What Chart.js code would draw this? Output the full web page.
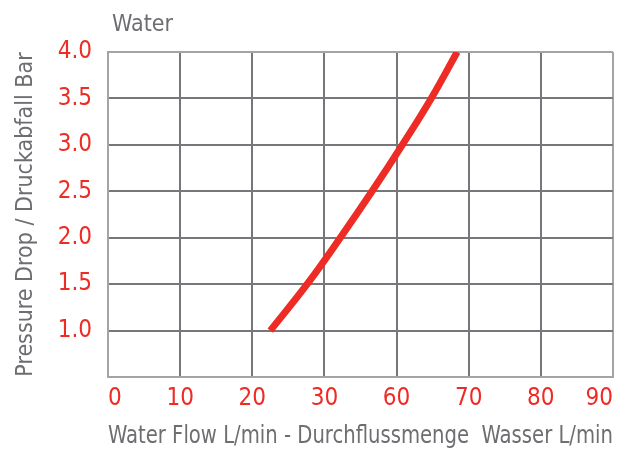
<!DOCTYPE html>
<html>
<head>
<meta charset="utf-8">
<script src="https://cdn.jsdelivr.net/npm/chart.js@4.4.1/dist/chart.umd.min.js"></script>
<style>
  body { margin: 0; background: #fff; }
</style>
</head>
<body>
<canvas id="grafico" width="638" height="450"></canvas>
<script>
var contexto = document.getElementById("grafico").getContext("2d");

// tick labels of the flow axis (not evenly spaced in value, evenly spaced on paper)
var flowTicks = [0, 10, 20, 30, 60, 70, 80, 90];
var pressureTicks = [0.5, 1.0, 1.5, 2.0, 2.5, 3.0, 3.5, 4.0];

// curve
var flow = [22.5, 27.6, 36.6, 49.8, 60.8, 64.8, 68.4];
var pressure = [1.0, 1.5, 2.0, 2.5, 3.0, 3.5, 4.0];

var red = '#ee2b25';
var gray = '#6d6e71';
var fonte = "'Liberation Sans Narrow', 'DejaVu Sans Condensed', 'Liberation Sans', sans-serif";

// flow value -> position on the (piecewise) axis
function pos(f){
    for (var i = 0; i < flowTicks.length - 1; i++) {
        if (f <= flowTicks[i + 1]) {
            return i + (f - flowTicks[i]) / (flowTicks[i + 1] - flowTicks[i]);
        }
    }
    return flowTicks.length - 1;
}

function pontos(){
    var p = [];
    for (var i = 0; i < flow.length; i++) {
        p.push({x: pos(flow[i]), y: pressure[i]});
    }
    return p;
}

var tituloWater = {
    id: 'tituloWater',
    afterDraw: function(chart){
        var c = chart.ctx;
        c.save();
        c.font = "23px " + fonte;
        c.fillStyle = gray;
        c.textBaseline = 'alphabetic';
        c.fillText('Water', chart.chartArea.left + 4, 31);
        c.restore();
    }
};

function corGrade(ctx){
    var last = ctx.scale.ticks.length - 1;
    return ctx.index === last ? '#a4a4a8' : '#77777b';
}

var grafico = new Chart(contexto, {
    type: 'line',
    data: {
        datasets: [{
            label: 'Water',
            data: pontos(),
            borderColor: red,
            backgroundColor: red,
            borderWidth: 7,
            borderCapStyle: 'butt',
            pointRadius: 0,
            tension: 0.4,
            fill: false
        }]
    },
    options: {
        responsive: false,
        animation: false,
        layout: { padding: { top: 52, right: 25, left: 0, bottom: 0 } },
        plugins: { legend: { display: false }, tooltip: { enabled: false } },
        scales: {
            x: {
                type: 'linear',
                min: 0,
                max: flowTicks.length - 1,
                afterFit: function(s){ s.height = 73; },
                afterBuildTicks: function(s){
                    s.ticks = flowTicks.map(function(v, i){ return {value: i}; });
                },
                grid: { color: corGrade, lineWidth: 2, drawTicks: false },
                border: { color: '#a4a4a8', width: 2 },
                ticks: {
                    align: 'inner',
                    padding: 7,
                    color: red,
                    font: { family: fonte, size: 24 },
                    callback: function(v){ return flowTicks[v]; }
                },
                title: {
                    display: true,
                    text: 'Water Flow L/min - Durchflussmenge  Wasser L/min',
                    color: gray,
                    font: { family: fonte, size: 24.5, lineHeight: 1 },
                    padding: { top: 0, bottom: 1 }
                }
            },
            y: {
                type: 'linear',
                min: pressureTicks[0],
                max: pressureTicks[pressureTicks.length - 1],
                afterFit: function(s){ s.width = 108; },
                afterBuildTicks: function(s){
                    s.ticks = pressureTicks.map(function(v){ return {value: v}; });
                },
                grid: { color: corGrade, lineWidth: 2, drawTicks: false },
                border: { color: '#a4a4a8', width: 2 },
                ticks: {
                    padding: 16,
                    color: red,
                    font: { family: fonte, size: 24 },
                    callback: function(v){ return v === pressureTicks[0] ? '' : v.toFixed(1); }
                },
                title: {
                    display: true,
                    text: 'Pressure Drop / Druckabfall Bar',
                    color: gray,
                    font: { family: fonte, size: 23, lineHeight: 1 },
                    padding: { top: 15, bottom: 0 }
                }
            }
        }
    },
    plugins: [tituloWater]
});
</script>
</body>
</html>
